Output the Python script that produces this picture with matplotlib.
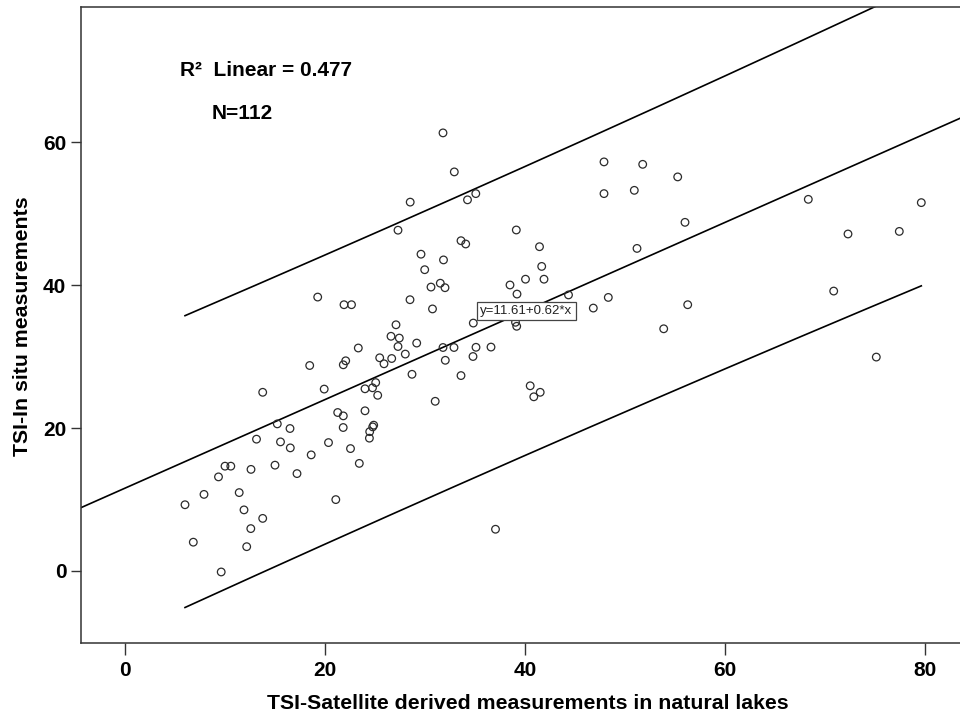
import matplotlib
matplotlib.use("Agg")
import matplotlib.pyplot as plt
import numpy as np

plt.rcParams['font.family'] = ['Liberation Sans', 'DejaVu Sans']

# TSI derived from satellite imagery (x) vs. in situ TSI (y), 112 lakes
tsi_satellite = [
    31.77, 32.90, 28.49, 34.22, 35.05, 27.27, 39.10, 33.57, 34.04, 41.42,
    29.57, 31.82, 29.94, 41.64, 40.02, 41.87, 30.57, 31.50, 31.97, 38.47,
    39.17, 28.47, 19.24, 21.87, 22.62, 30.72, 34.80, 27.07, 26.57, 27.40,
    29.14, 23.30, 31.77, 32.87, 35.07, 27.27, 18.44, 22.04, 21.80, 13.74,
    19.89, 23.97, 21.24, 21.80, 23.97, 15.20, 21.79, 16.47, 24.44, 24.41,
    13.12, 15.52, 16.50, 20.32, 22.52, 18.59, 23.40, 9.97, 10.55, 12.57,
    14.97, 44.32, 46.80, 48.30, 53.84, 56.24, 36.57, 47.87, 51.74, 55.24,
    47.87, 50.90, 55.97, 51.17, 68.30, 79.60, 72.27, 77.40, 70.84, 75.10,
    39.02, 39.14, 25.44, 25.87, 26.64, 28.00, 32.00, 34.77, 28.67, 33.57,
    25.04, 24.72, 25.24, 30.99, 40.49, 41.49, 40.85, 24.84, 24.74, 21.05,
    17.17, 11.39, 9.32, 7.87, 11.87, 12.55, 13.74, 12.14, 5.97, 6.80,
    9.59, 37.02,
]
tsi_in_situ = [
    61.32, 55.86, 51.63, 51.95, 52.82, 47.70, 47.73, 46.23, 45.77, 45.39,
    44.34, 43.54, 42.17, 42.63, 40.84, 40.84, 39.74, 40.28, 39.65, 40.03,
    38.76, 37.97, 38.34, 37.27, 37.27, 36.68, 34.70, 34.46, 32.85, 32.60,
    31.90, 31.21, 31.28, 31.28, 31.31, 31.42, 28.76, 29.42, 28.86, 25.01,
    25.46, 25.50, 22.18, 21.71, 22.42, 20.59, 20.08, 19.94, 19.50, 18.59,
    18.45, 18.07, 17.23, 17.97, 17.13, 16.25, 15.06, 14.67, 14.67, 14.22,
    14.81, 38.64, 36.80, 38.29, 33.90, 37.27, 31.34, 57.26, 56.92, 55.16,
    52.82, 53.28, 48.80, 45.15, 52.02, 51.56, 47.17, 47.53, 39.18, 29.94,
    34.81, 34.25, 29.84, 29.00, 29.74, 30.36, 29.49, 30.02, 27.53, 27.35,
    26.37, 25.64, 24.59, 23.75, 25.92, 25.01, 24.38, 20.41, 20.17, 9.99,
    13.63, 10.97, 13.17, 10.72, 8.55, 5.93, 7.36, 3.40, 9.27, 4.03,
    -0.14, 5.84,
]

intercept = 11.61
slope = 0.62
r_squared = 0.477
t_crit = 1.9818  # t(0.975, df=110)

x = np.array(tsi_satellite)
y = np.array(tsi_in_situ)
n = len(x)

# 95% prediction interval around the fitted line
resid = y - (intercept + slope * x)
s = np.sqrt(np.sum(resid ** 2) / (n - 2))
sxx = np.sum((x - x.mean()) ** 2)
xs = np.linspace(x.min(), x.max(), 200)
fit_xs = intercept + slope * xs
half = t_crit * s * np.sqrt(1 + 1 / n + (xs - x.mean()) ** 2 / sxx)

fig = plt.figure(figsize=(9.6, 7.15), dpi=100)
ax = fig.add_axes([81 / 960, 72.3 / 715, 879 / 960, 635.4 / 715])

xlim = (-4.43, 83.47)
ax.set_xlim(*xlim)
ax.set_ylim(-10.04, 78.9)

ax.scatter(x, y, s=30, facecolors='none', edgecolors='#2b2b2b',
           linewidths=0.9, zorder=3)

xl = np.array(xlim)
ax.plot(xl, intercept + slope * xl, color='black', lw=1.2, zorder=2)
ax.plot(xs, fit_xs + half, color='black', lw=1.2, zorder=2)
ax.plot(xs, fit_xs - half, color='black', lw=1.2, zorder=2)

ax.text(40.12, 36.38, f'y={intercept:.2f}+{slope:.2f}*x', fontsize=9.5,
        ha='center', va='center', color='#222222', zorder=4,
        bbox=dict(boxstyle='square,pad=0.25', facecolor='white',
                  edgecolor='#444444', lw=0.9))

big = 15
ax.text(0.1126, 0.9013, f'R²  Linear = {r_squared:.3f}', transform=ax.transAxes,
        fontsize=big, fontweight='bold', ha='left', va='center')
ax.text(0.149, 0.833, f'N={n}', transform=ax.transAxes,
        fontsize=big, fontweight='bold', ha='left', va='center')

ax.set_xticks([0, 20, 40, 60, 80])
ax.set_yticks([0, 20, 40, 60])
ax.tick_params(axis='x', direction='out', length=8.6, width=1, pad=4.5,
               labelsize=big, color='#333333')
ax.tick_params(axis='y', direction='out', length=7.2, width=1, pad=3.4,
               labelsize=big, color='#333333')
for lab in ax.get_xticklabels() + ax.get_yticklabels():
    lab.set_fontweight('bold')

for side in ['left', 'bottom', 'top']:
    ax.spines[side].set_color('#333333')
    ax.spines[side].set_linewidth(1.1)
ax.spines['right'].set_visible(False)

ax.set_xlabel('TSI-Satellite derived measurements in natural lakes',
              fontsize=15.3, fontweight='bold')
ax.set_ylabel('TSI-In situ measurements', fontsize=15.3, fontweight='bold')
ax.xaxis.set_label_coords(0.508, -0.080)
ax.yaxis.set_label_coords(-0.056, 0.498)

fig.savefig('out.png', dpi=100)
